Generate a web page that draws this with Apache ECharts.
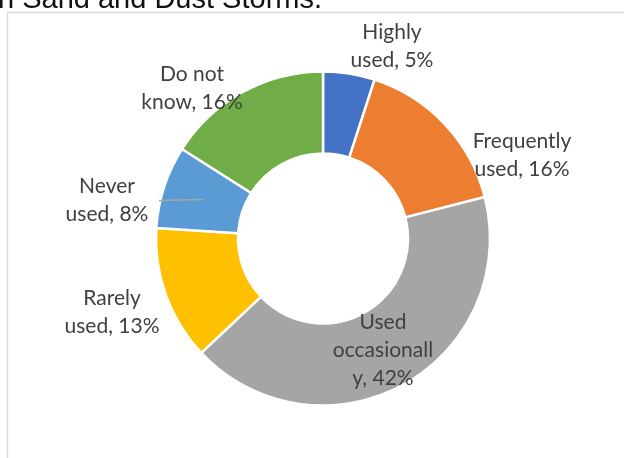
<!DOCTYPE html>
<html>
<head>
<meta charset="utf-8">
<script src="https://cdn.jsdelivr.net/npm/echarts@6/dist/echarts.min.js"></script>
<style>
  html, body { margin: 0; padding: 0; background: #fff; }
  #chart { width: 624px; height: 458px; }
</style>
</head>
<body>
<div id="chart"></div>
<script>
// Usage categories and their shares (%)
const categories = ['Highly used', 'Frequently used', 'Used occasionally', 'Rarely used', 'Never used', 'Do not know'];
const shares = [5, 16, 42, 13, 8, 16];
// Wrapped label text, one entry per category
const labelText = [
  'Highly\nused, 5%',
  'Frequently\nused, 16%',
  'Used\noccasionall\ny, 42%',
  'Rarely\nused, 13%',
  'Never\nused, 8%',
  'Do not\nknow, 16%'
];
const colors = ['#4472C4', '#ED7D31', '#A5A5A5', '#FFC000', '#5B9BD5', '#70AD47'];

// Ring geometry
const CX = 323, CY = 238.5, R_IN = 85, R_OUT = 167;
// Label block centres, offset from the ring centre
const labelOffsets = [[69, -192], [199, -83], [60, 112], [-211, 74], [-216, -38], [-131, -150]];

// Leader line for "Never used": from its label to the middle of its segment
const total = shares.reduce((a, b) => a + b, 0);
const neverIdx = 4;
const before = shares.slice(0, neverIdx).reduce((a, b) => a + b, 0);
const midAng = (before + shares[neverIdx] / 2) / total * 2 * Math.PI;
const rMid = (R_IN + R_OUT) / 2;
const leaderEnd = [CX + rMid * Math.sin(midAng), CY - rMid * Math.cos(midAng)];
const leaderStart = [CX + labelOffsets[neverIdx][0] + 52, CY + labelOffsets[neverIdx][1]];

const chart = echarts.init(document.getElementById('chart'));
chart.setOption({
  animation: false,
  title: {
    text: 'n Sand and Dust Storms.',
    left: -2,
    top: -15,
    padding: 0,
    textStyle: { fontFamily: 'Liberation Sans', fontSize: 29, fontWeight: 'normal', color: '#111' }
  },
  graphic: [
    {
      type: 'rect',
      shape: { x: 7.5, y: 12.5, width: 700, height: 500 },
      style: { fill: 'none', stroke: '#D9D9D9', lineWidth: 1.3 },
      silent: true
    },
    {
      type: 'line',
      z: 100,
      shape: { x1: leaderStart[0], y1: leaderStart[1], x2: leaderEnd[0], y2: leaderEnd[1] },
      style: { stroke: '#A6A6A6', lineWidth: 1.5 },
      silent: true
    }
  ],
  series: [{
    type: 'pie',
    center: [CX, CY],
    radius: [R_IN, R_OUT],
    startAngle: 90,
    clockwise: true,
    avoidLabelOverlap: false,
    itemStyle: { borderColor: '#fff', borderWidth: 2.5 },
    label: {
      show: true,
      position: 'outside',
      formatter: p => labelText[p.dataIndex],
      fontFamily: 'Lato',
      fontSize: 21,
      lineHeight: 28,
      color: '#404040',
      align: 'center'
    },
    labelLine: { show: false },
    labelLayout: p => ({
      x: CX + labelOffsets[p.dataIndex][0],
      y: CY + labelOffsets[p.dataIndex][1],
      align: 'center',
      verticalAlign: 'middle'
    }),
    data: categories.map((name, i) => ({
      name: name,
      value: shares[i],
      itemStyle: { color: colors[i] }
    }))
  }]
});
</script>
</body>
</html>
